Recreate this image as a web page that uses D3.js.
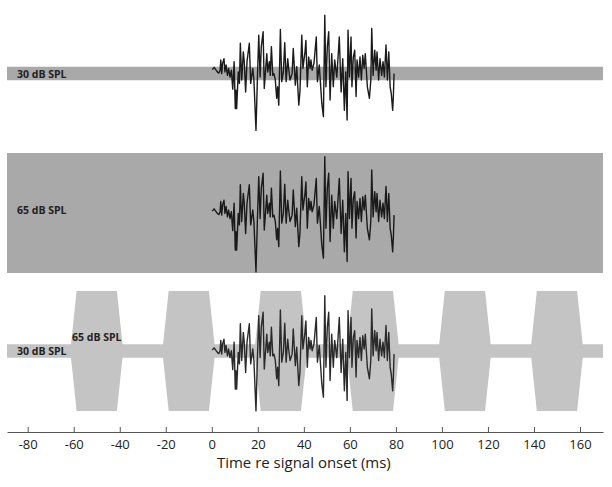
<!DOCTYPE html>
<html>
<head>
<meta charset="utf-8">
<script src="https://cdn.jsdelivr.net/npm/d3@7"></script>
<style>
  body { margin: 0; background: #fff; }
  svg { display: block; font-family: "Open Sans", sans-serif; }
  .lvl { font-size: 10.5px; font-weight: 700; fill: #222; }
  .axis text { font-size: 13px; fill: #222; font-family: "Open Sans", sans-serif; }
  .axis path, .axis line { stroke: #555; }
</style>
</head>
<body>
<script>
var w = 612, h = 487;

// signal waveform, time in ms and relative amplitude
var sigTime = [0.2,1.0,1.7,2.4,3.1,3.6,3.9,4.3,4.7,5.3,5.7,6.2,6.8,7.3,7.9,8.5,9.1,9.7,10.2,10.5,10.8,11.5,12.0,12.4,13.0,13.7,14.1,14.7,15.3,16.3,16.9,17.8,18.3,19.2,19.8,20.4,21.0,21.5,22.3,22.8,23.9,24.3,25.0,25.4,25.9,26.5,27.0,27.6,28.2,28.6,29.1,29.8,30.4,31.1,31.7,32.3,33.0,33.4,34.0,34.9,35.4,36.3,36.9,37.8,38.3,39.1,39.6,40.5,40.9,41.5,42.1,42.7,43.1,43.6,44.4,45.4,45.9,46.7,47.8,48.5,49.1,49.6,50.2,50.8,51.4,52.1,52.8,53.4,54.3,54.7,55.4,56.2,56.9,57.6,58.2,58.8,59.2,59.8,60.5,60.9,61.5,62.1,62.7,63.1,63.8,64.4,65.0,65.6,66.2,66.7,67.6,68.5,69.1,69.5,70.1,70.8,71.4,71.8,72.5,73.1,73.8,74.4,75.0,75.7,76.3,76.9,77.5,78.0,78.6,78.9,79.2];
var sigAmp = [0.05,0.09,0.05,0.01,-0.01,0.04,0.22,-0.02,0.16,0.24,0.01,0.13,-0.05,0.07,-0.08,0.04,-0.29,0.19,-0.63,-0.31,-0.63,0.01,-0.19,0.51,-0.13,0.36,0.19,-0.34,0.19,0.51,-0.19,0.07,-0.13,-1.01,-0.13,0.65,-0.08,0.45,0.71,-0.28,0.33,0.01,0.19,-0.05,0.45,-0.05,-0.02,-0.13,-0.45,-0.25,-0.57,0.75,-0.16,0.01,0.52,-0.16,0.24,0.07,-0.13,-0.02,0.42,-0.22,0.10,-0.57,-0.34,0.65,0.07,0.36,0.56,-0.25,0.27,0.07,0.22,0.04,0.16,0.62,-0.16,0.13,-0.54,-0.77,1.00,-0.25,0.45,0.71,-0.48,0.33,-0.25,0.22,-0.08,0.16,0.62,-0.34,0.24,-0.66,0.01,-0.83,0.74,-0.08,0.62,-0.25,0.27,0.39,-0.42,0.22,-0.08,0.27,-0.13,0.30,0.07,0.33,-0.25,-0.45,-0.13,0.77,-0.05,0.39,0.04,0.36,-0.13,0.24,-0.05,0.19,-0.08,0.48,-0.13,0.36,-0.25,-0.37,-0.66,-0.42,-0.02];

// masker levels (dB SPL) per panel
var panelNames = ["low", "high", "gated"];
var panelLevels = [30, 65, 30];
// gated 65 dB bursts: centre time, plateau and base half widths (ms)
var burstCenters = [-50, -10, 30, 70, 110, 150];
var burstTopHalf = 8.75;
var burstBaseHalf = 11.5;
var burstLevel = 65;
var xTicks = [-80, -60, -40, -20, 0, 20, 40, 60, 80, 100, 120, 140, 160];

var panelY = {low: 73.5, high: 213, gated: 351};
var waveY = {low: 72.5, high: 214, gated: 353};

var x = d3.scaleLinear().domain([-89, 170]).range([7, 603]);
var halfH = d3.scaleLinear().domain([30, 65]).range([6.75, 60]);
var amp = d3.scaleLinear().domain([-1, 1]).range([57.3, -57.3]);

var svg = d3.select("body").append("svg")
    .attr("width", w)
    .attr("height", h);

var wave = d3.zip(sigTime, sigAmp);

// masker backgrounds
panelNames.forEach(function (p, i) {
    var fill = p === "gated" ? "#c4c4c4" : "#a9a9a9";
    var hh = halfH(panelLevels[i]);
    svg.append("rect")
        .attr("x", x(-89))
        .attr("y", panelY[p] - hh)
        .attr("width", x(170) - x(-89))
        .attr("height", hh * 2)
        .attr("fill", fill);
});

// gated bursts in the bottom panel
var hb = halfH(burstLevel);
svg.selectAll(".burst")
    .data(burstCenters)
    .enter()
    .append("polygon")
    .attr("class", "burst")
    .attr("fill", "#c4c4c4")
    .attr("points", function (c) {
        var cy = panelY.gated;
        return [
            [x(c - burstTopHalf), cy - hb],
            [x(c + burstTopHalf), cy - hb],
            [x(c + burstBaseHalf), cy],
            [x(c + burstTopHalf), cy + hb],
            [x(c - burstTopHalf), cy + hb],
            [x(c - burstBaseHalf), cy]
        ].map(function (pt) { return pt.join(","); }).join(" ");
    });

// level labels
svg.append("text").attr("class", "lvl").attr("x", 17).attr("y", panelY.low + 4).text("30 dB SPL");
svg.append("text").attr("class", "lvl").attr("x", 17).attr("y", panelY.high + 1).text("65 dB SPL");
svg.append("text").attr("class", "lvl").attr("x", 17).attr("y", panelY.gated + 4).text("30 dB SPL");
svg.append("text").attr("class", "lvl").attr("x", 72).attr("y", panelY.gated - 10).text("65 dB SPL");

// waveform in each panel
panelNames.forEach(function (p) {
    var line = d3.line()
        .x(function (d) { return x(d[0]); })
        .y(function (d) { return waveY[p] + amp(d[1]); });
    svg.append("path")
        .datum(wave)
        .attr("d", line)
        .attr("fill", "none")
        .attr("stroke", p === "gated" ? "#2a2a2a" : "#1a1a1a")
        .attr("stroke-width", 1.4)
        .attr("stroke-linejoin", "round");
});

// time axis (plain hyphen minus like the original)
var xAxis = d3.axisBottom(x)
    .tickValues(xTicks)
    .tickFormat(function (d) { return String(d); })
    .tickSizeInner(-5)
    .tickSizeOuter(0)
    .tickPadding(8);

svg.append("g")
    .attr("class", "axis")
    .attr("transform", "translate(0,432)")
    .call(xAxis);

svg.append("text")
    .attr("x", x(40))
    .attr("y", 468)
    .attr("text-anchor", "middle")
    .style("font-size", "15px")
    .style("fill", "#222")
    .text("Time re signal onset (ms)");
</script>
</body>
</html>
